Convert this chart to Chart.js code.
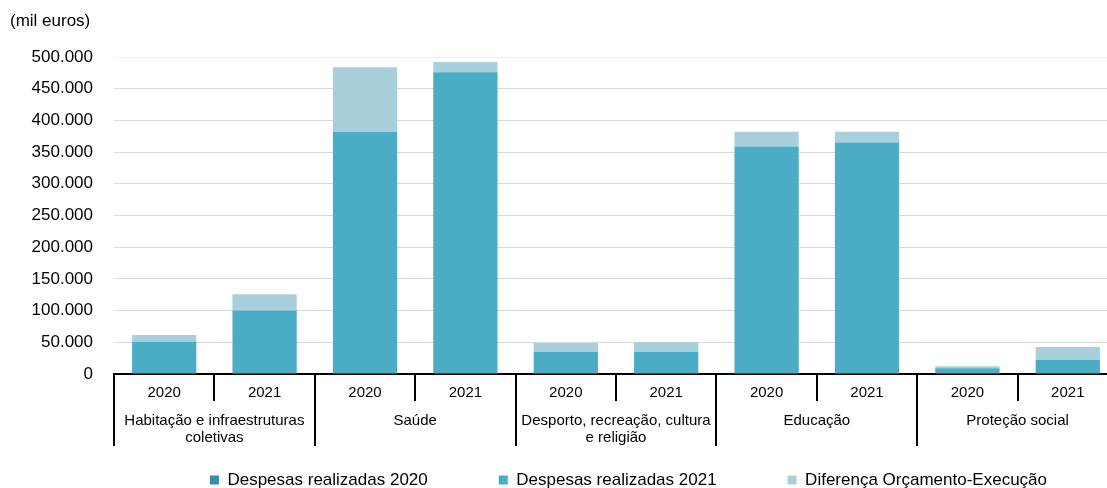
<!DOCTYPE html>
<html lang="pt">
<head>
<meta charset="utf-8">
<title>Despesas realizadas por função</title>
<script src="https://cdn.jsdelivr.net/npm/chart.js@4/dist/chart.umd.min.js"></script>
<style>
  html, body { margin: 0; padding: 0; background: #fff; overflow: hidden; }
  canvas { display: block; }
</style>
</head>
<body>
<canvas id="despesasChart" width="1125" height="488"></canvas>
<script>
// Funções (grupos do eixo) e anos dentro de cada grupo
const grupos = [
    ['Habitação e infraestruturas', 'coletivas'],
    ['Saúde'],
    ['Desporto, recreação, cultura', 'e religião'],
    ['Educação'],
    ['Proteção social']
];
const anos = ['2020', '2021'];

// Valores em mil euros
const despesas2020 = [51000, 382000, 35000, 359000, 9000];
const despesas2021 = [100000, 476000, 35000, 365000, 22500];
const diferenca2020 = [10500, 102000, 14000, 23000, 3300];
const diferenca2021 = [25700, 16000, 15000, 17000, 20000];

const yMax = 500000;
const yStep = 50000;

const coresLegenda = ['#3a8fa4', '#4bacc6', '#a9cfdc'];

// Uma barra por ano dentro de cada grupo
const etiquetasAnos = [];
const serie2020 = [];
const serie2021 = [];
const serieDiferenca = [];
grupos.forEach(function(g, i) {
    etiquetasAnos.push(anos[0], anos[1]);
    serie2020.push(despesas2020[i], null);
    serie2021.push(null, despesas2021[i]);
    serieDiferenca.push(diferenca2020[i], diferenca2021[i]);
});

function formatarMilhares(v) {
    return String(v).replace(/\B(?=(\d{3})+(?!\d))/g, '.');
}

Chart.defaults.font.family = "'Liberation Sans', Arial, sans-serif";
Chart.defaults.color = '#000';

const ctx = document.getElementById('despesasChart').getContext('2d');
const despesasChart = new Chart(ctx, {
    type: 'bar',
    data: {
        labels: etiquetasAnos,
        datasets: [{
            label: 'Despesas realizadas 2020',
            data: serie2020,
            backgroundColor: '#4bacc6',
            stack: 'total'
        }, {
            label: 'Despesas realizadas 2021',
            data: serie2021,
            backgroundColor: '#4bacc6',
            stack: 'total'
        }, {
            label: 'Diferença Orçamento-Execução',
            data: serieDiferenca,
            backgroundColor: '#a9cfdc',
            stack: 'total'
        }]
    },
    options: {
        responsive: false,
        animation: false,
        barPercentage: 0.8,
        categoryPercentage: 0.8,
        layout: {
            padding: { left: 10, right: 7, top: 0, bottom: 0 }
        },
        plugins: {
            title: {
                display: true,
                text: '(mil euros)',
                align: 'start',
                color: '#000',
                font: { size: 17, weight: 'normal' },
                padding: { top: 11, bottom: 25.6 }
            },
            legend: {
                position: 'bottom',
                align: 'end',
                fullSize: false,
                maxHeight: 87.5,
                labels: {
                    boxWidth: 9,
                    boxHeight: 9,
                    padding: 71,
                    color: '#000',
                    font: { size: 17 },
                    generateLabels: function(chart) {
                        const itens = Chart.defaults.plugins.legend.labels.generateLabels(chart);
                        itens.forEach(function(item, i) {
                            item.fillStyle = coresLegenda[i];
                            item.strokeStyle = coresLegenda[i];
                            item.lineWidth = 0;
                        });
                        return itens;
                    }
                }
            },
            tooltip: { enabled: false }
        },
        scales: {
            x: {
                stacked: true,
                border: { display: true, color: '#000', width: 2 },
                grid: {
                    drawOnChartArea: false,
                    offset: true,
                    color: '#000',
                    lineWidth: 2,
                    tickLength: 27
                },
                ticks: {
                    autoSkip: false,
                    maxRotation: 0,
                    padding: -17,
                    font: { size: 15 }
                },
                afterFit: function(scale) { scale.height = 26; }
            },
            grupos: {
                type: 'category',
                position: 'bottom',
                labels: grupos,
                offset: true,
                weight: 1,
                border: { display: false },
                grid: {
                    drawOnChartArea: false,
                    offset: true,
                    color: '#000',
                    lineWidth: 2,
                    tickLength: 46
                },
                ticks: {
                    autoSkip: false,
                    maxRotation: 0,
                    mirror: true,
                    padding: -29.5,
                    font: { size: 15, lineHeight: 1.15 }
                },
                afterFit: function(scale) { scale.height = 0.5; }
            },
            y: {
                stacked: true,
                min: 0,
                max: yMax,
                border: { display: false },
                grid: {
                    drawTicks: false,
                    lineWidth: 1,
                    color: function(c) {
                        return c.tick && c.tick.value === yMax ? '#f0f0f0' : '#d9d9d9';
                    }
                },
                ticks: {
                    stepSize: yStep,
                    padding: 21,
                    font: { size: 17 },
                    callback: function(value) { return formatarMilhares(value); }
                },
                afterFit: function(scale) { scale.width = 104; }
            }
        }
    }
});
</script>
</body>
</html>
